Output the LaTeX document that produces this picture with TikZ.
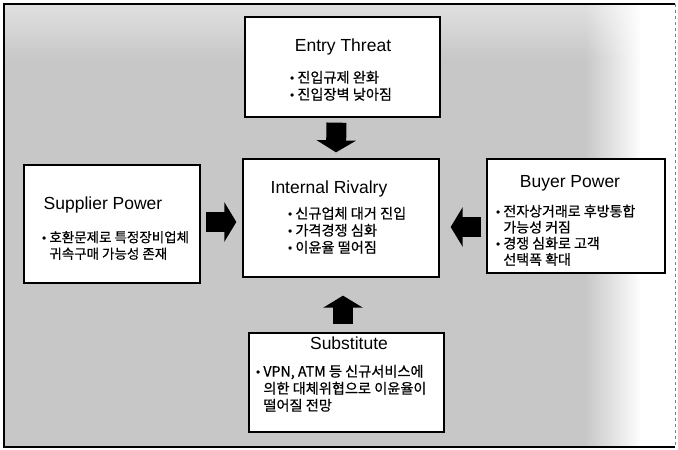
\documentclass[tikz,border=0pt]{standalone}
\usepackage{fontspec}
\setmainfont{Liberation Sans}
\newfontfamily\kr[FakeBold=0.6]{Noto Sans CJK KR}
\newcommand{\bul}{{\normalfont\fontsize{12}{12}\selectfont\textbullet}}
\usetikzlibrary{arrows.meta,calc,fadings}
\tikzfading[name=fadetoright, left color=transparent!100, right color=transparent!0]
\begin{document}
\begin{tikzpicture}[x=1pt,y=-1pt,
  boxst/.style={draw=black, line width=1.3pt, fill=white, inner sep=0pt},
  titlest/.style={font=\fontsize{17.5}{20}\selectfont, inner sep=0pt, anchor=base},
  txtst/.style={font=\kr\fontsize{14.2}{17}\selectfont, inner sep=0pt, anchor=north west},
  bigarrow/.style={line width=20pt, -{Triangle[length=12pt, width=39pt]}}
]
\useasboundingbox (0,0) rectangle (678,450);
% background
\fill[black!22] (4,4) rectangle (675,447);
\shade[top color=black!12, bottom color=black!22] (4,4) rectangle (675,60);
\fill[white, path fading=fadetoright] (585,4) rectangle (641,447);
\fill[white] (640,4) rectangle (675,447);
\draw[line width=2.5pt] (675,4) -- (4,4) -- (4,447) -- (675,447);
\draw[line width=0.6pt, black!50, dashed] (675,4) -- (675,447);

% boxes
\node[boxst, minimum width=195pt, minimum height=100pt] (entry) at (342.5,67) {};
\node[boxst, minimum width=196pt, minimum height=118pt] (internal) at (341,218) {};
\node[boxst, minimum width=176pt, minimum height=118pt] (supplier) at (112,224) {};
\node[boxst, minimum width=178pt, minimum height=114pt] (buyer) at (576,216) {};
\node[boxst, minimum width=195pt, minimum height=99pt] (subst) at (346.5,382.5) {};

% titles
\node[titlest] (entryT) at (343,51) {Entry Threat};
\node[titlest] (internalT) at (329,193) {Internal Rivalry};
\node[titlest] (supplierT) at (103,209) {Supplier Power};
\node[titlest] (buyerT) at (570,187) {Buyer Power};
\node[titlest] (substT) at (349,349) {Substitute};

% bullet texts
\node[txtst] (entryB) at (290,70.5) {\begin{tabular}{@{}l@{\hspace{3pt}}l@{}}\bul & 진입규제 완화\\ \bul & 진입장벽 낮아짐\end{tabular}};
\node[txtst] (internalB) at (288,206.5) {\begin{tabular}{@{}l@{\hspace{3pt}}l@{}}\bul & 신규업체 대거 진입\\ \bul & 가격경쟁 심화\\ \bul & 이윤율 떨어짐\end{tabular}};
\node[txtst, font=\kr\fontsize{13.5}{16.5}\selectfont] (supplierB) at (42,230.5) {\begin{tabular}{@{}l@{\hspace{3pt}}l@{}}\bul & 호환문제로 특정장비업체\\ & 귀속구매 가능성 존재\end{tabular}};
\node[txtst, font=\kr\fontsize{14}{15}\selectfont] (buyerB) at (496,204.5) {\begin{tabular}{@{}l@{\hspace{3pt}}l@{}}\bul & 전자상거래로 후방통합\\ & 가능성 커짐\\ \bul & 경쟁 심화로 고객\\ & 선택폭 확대\end{tabular}};
\node[txtst] (substB) at (256,364.5) {\begin{tabular}{@{}l@{\hspace{3pt}}l@{}}\bul & VPN, ATM 등 신규서비스에\\ & 의한 대체위협으로 이윤율이\\ & 떨어질 전망\end{tabular}};

% arrows
\draw[bigarrow] ($(entry.south)+(-6,5)$) -- ($(internal.north)+(-5,-6)$);
\draw[bigarrow] ($(supplier.east)+(5,-2)$) -- ($(internal.west)+(-6,4)$);
\draw[bigarrow] ($(buyer.west)+(-5,11)$) -- ($(internal.east)+(11,9)$);
\draw[bigarrow] ($(subst.north)+(-3.5,-8)$) -- ($(internal.south)+(2,18)$);
\end{tikzpicture}
\end{document}
